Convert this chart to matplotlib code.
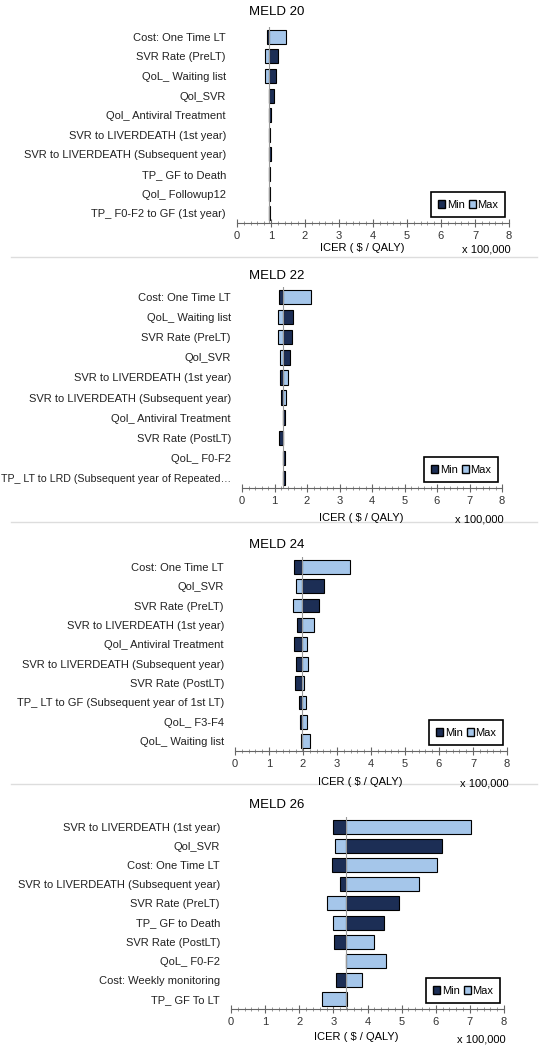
import matplotlib.pyplot as plt
from matplotlib.patches import Patch
from matplotlib.ticker import MultipleLocator

plt.rcParams["font.family"] = ["Liberation Sans", "DejaVu Sans"]

# * Dados (ICER em x 100,000)
titulos = ["MELD 20", "MELD 22", "MELD 24", "MELD 26"]
bases = [0.95, 1.25, 1.96, 3.37]

rotulos_20 = ["Cost: One Time LT", "SVR Rate (PreLT)", "QoL_ Waiting list", "Qol_SVR",
              "Qol_ Antiviral Treatment", "SVR to LIVERDEATH (1st year)",
              "SVR to LIVERDEATH (Subsequent year)", "TP_ GF to Death", "Qol_ Followup12",
              "TP_ F0-F2 to GF (1st year)"]
min_20 = [0.88, 1.20, 1.16, 1.09, 1.01, 0.93, 0.99, 0.94, 0.94, 0.94]
max_20 = [1.43, 0.82, 0.81, 0.93, 0.95, 0.97, 0.95, 0.97, 0.98, 0.98]

rotulos_22 = ["Cost: One Time LT", "QoL_ Waiting list", "SVR Rate (PreLT)", "Qol_SVR",
              "SVR to LIVERDEATH (1st year)", "SVR to LIVERDEATH (Subsequent year)",
              "Qol_ Antiviral Treatment", "SVR Rate (PostLT)", "QoL_ F0-F2",
              "TP_ LT to LRD (Subsequent year of Repeated\u2026"]
min_22 = [1.14, 1.57, 1.54, 1.49, 1.16, 1.21, 1.32, 1.15, 1.32, 1.32]
max_22 = [2.12, 1.12, 1.12, 1.16, 1.40, 1.35, 1.25, 1.25, 1.25, 1.25]

rotulos_24 = ["Cost: One Time LT", "Qol_SVR", "SVR Rate (PreLT)", "SVR to LIVERDEATH (1st year)",
              "Qol_ Antiviral Treatment", "SVR to LIVERDEATH (Subsequent year)",
              "SVR Rate (PostLT)", "TP_ LT to GF (Subsequent year of 1st LT)", "QoL_ F3-F4",
              "QoL_ Waiting list"]
min_24 = [1.74, 2.61, 2.48, 1.82, 1.74, 1.79, 1.75, 1.87, 1.92, 1.95]
max_24 = [3.37, 1.80, 1.70, 2.32, 2.13, 2.15, 2.02, 2.09, 2.12, 2.21]

rotulos_26 = ["SVR to LIVERDEATH (1st year)", "Qol_SVR", "Cost: One Time LT",
              "SVR to LIVERDEATH (Subsequent year)", "SVR Rate (PreLT)", "TP_ GF to Death",
              "SVR Rate (PostLT)", "QoL_ F0-F2", "Cost: Weekly monitoring", "TP_ GF To LT"]
min_26 = [2.98, 6.18, 2.96, 3.20, 4.92, 4.48, 3.02, 3.36, 3.08, 3.40]
max_26 = [7.02, 3.05, 6.04, 5.52, 2.80, 3.00, 4.20, 4.55, 3.83, 2.66]

rotulos = [rotulos_20, rotulos_22, rotulos_24, rotulos_26]
minimos = [min_20, min_22, min_24, min_26]
maximos = [max_20, max_22, max_24, max_26]

cor_min = "#1c2e55"
cor_max = "#a5c6ea"
fs = 8

W, H = 548, 1050
fig = plt.figure(figsize=(W / 100, H / 100), dpi=100)

# posicoes em pixels: (esq, dir, topo, base, y titulo, y xlabel)
posicoes = [
    (237, 509, 27, 223, 12, 248),
    (242, 502, 287, 488, 276, 518),
    (235, 507, 557, 751, 545, 782),
    (231, 504, 817, 1009, 805, 1037),
]

for k in range(4):
    esq, dir_, topo, baixo, yt, yxl = posicoes[k]
    ax = fig.add_axes([esq / W, 1 - baixo / H, (dir_ - esq) / W, (baixo - topo) / H])
    base = bases[k]
    n = len(rotulos[k])
    for i in range(n):
        ax.barh(i, minimos[k][i] - base, left=base, height=0.72, color=cor_min,
                edgecolor="black", linewidth=0.8, zorder=2)
        ax.barh(i, maximos[k][i] - base, left=base, height=0.72, color=cor_max,
                edgecolor="black", linewidth=0.8, zorder=2)
    ax.axvline(base, color="#999999", lw=0.8, zorder=3)
    ax.set_ylim(n - 0.5, -0.5)
    ax.set_xlim(0, 8)
    ax.set_yticks(range(n))
    ax.set_yticklabels(rotulos[k], fontsize=fs, color="#222222")
    # rotulo longo: um pouco menor para caber na figura
    for t in ax.get_yticklabels():
        if len(t.get_text()) > 40:
            t.set_fontsize(7.7)
    ax.tick_params(axis="y", length=0, pad=8)
    ax.xaxis.set_major_locator(MultipleLocator(1))
    ax.xaxis.set_minor_locator(MultipleLocator(0.2))
    ax.tick_params(axis="x", which="major", direction="inout", length=6, width=0.8,
                   color="#666666", labelsize=fs, labelcolor="#333333", pad=3)
    ax.tick_params(axis="x", which="minor", direction="inout", length=3, width=0.6,
                   color="#888888")
    for lado in ["top", "right", "left"]:
        ax.spines[lado].set_visible(False)
    ax.spines["bottom"].set_color("#666666")
    ax.spines["bottom"].set_linewidth(0.8)

    fig.text(0.505, 1 - yt / H, titulos[k], ha="center", va="center", fontsize=9.5)
    fig.text((esq + dir_) / 2 / W - 0.02, 1 - yxl / H, "ICER ( $ / QALY)", ha="center",
             va="center", fontsize=fs)
    fig.text(dir_ / W + 0.003, 1 - (yxl + 2) / H, "x 100,000", ha="right", va="center",
             fontsize=fs)

    leg = ax.legend(handles=[Patch(facecolor=cor_min, edgecolor="black", label="Min"),
                             Patch(facecolor=cor_max, edgecolor="black", label="Max")],
                    loc="lower right", bbox_to_anchor=(0.995, 0.02), ncol=2, fontsize=8,
                    handlelength=0.62, handleheight=0.75, handletextpad=0.15,
                    columnspacing=0.35, fancybox=False, framealpha=1, borderpad=0.65,
                    borderaxespad=0.2)
    leg.get_frame().set_edgecolor("black")
    leg.get_frame().set_linewidth(1.2)

# linhas separadoras entre os paineis
for ysep in [257, 522, 784]:
    fig.add_artist(plt.Line2D([0.02, 0.98], [1 - ysep / H, 1 - ysep / H],
                              color="#dddddd", lw=1))

fig.savefig("out.png", dpi=100)
